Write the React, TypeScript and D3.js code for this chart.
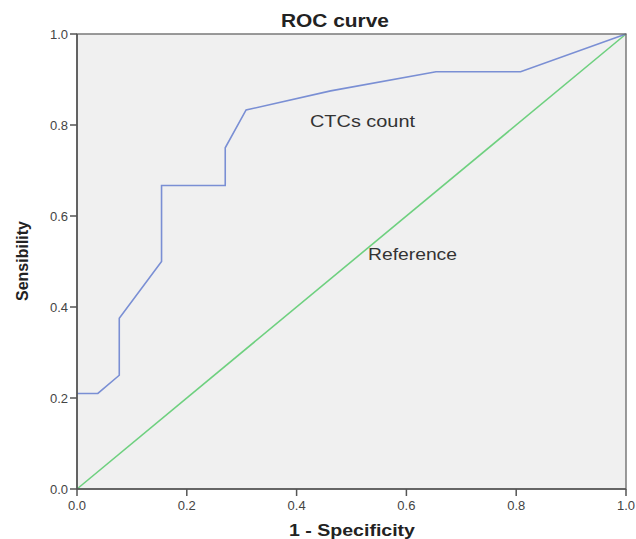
import React from 'react';
import * as d3 from 'd3';

// ROC points (1 - specificity, sensitivity)
const fpr = [0, 0.038, 0.077, 0.077, 0.154, 0.154, 0.27, 0.27, 0.308, 0.462, 0.654, 0.808, 1];
const tpr = [0.21, 0.21, 0.25, 0.375, 0.5, 0.667, 0.667, 0.75, 0.833, 0.875, 0.917, 0.917, 1];
const refLine = [0, 1];
const ticks = [0, 0.2, 0.4, 0.6, 0.8, 1.0];

const W = 636;
const H = 539;
const margin = { top: 34, right: 10, bottom: 50, left: 77 };

const App = () => {
  const x = d3.scaleLinear().domain([0, 1]).range([margin.left, W - margin.right]);
  const y = d3.scaleLinear().domain([0, 1]).range([H - margin.bottom, margin.top]);

  const line = d3.line<[number, number]>()
    .x(d => x(d[0]))
    .y(d => y(d[1]));

  const roc = line(fpr.map((f, i) => [f, tpr[i]] as [number, number]));
  const ref = line(refLine.map(v => [v, v] as [number, number]));

  const font = 'Liberation Sans, Arial, sans-serif';
  const axisColor = '#555';

  return (
    <svg width={W} height={H} style={{ position: 'absolute', left: 0, top: 0, background: '#fff' }}>
      <rect x={x(0)} y={y(1)} width={x(1) - x(0)} height={y(0) - y(1)} fill="#f0f0f0" />
      <path d={ref || ''} fill="none" stroke="#6ed07f" strokeWidth={1.6} />
      <path d={roc || ''} fill="none" stroke="#7a8fd4" strokeWidth={1.6} />
      <rect x={x(0)} y={y(1)} width={x(1) - x(0)} height={y(0) - y(1)} fill="none" stroke="#666" strokeWidth={1.3} />
      <line x1={x(0)} x2={x(0)} y1={y(1)} y2={y(0)} stroke={axisColor} strokeWidth={1.6} />
      <line x1={x(0)} x2={x(1)} y1={y(0)} y2={y(0)} stroke={axisColor} strokeWidth={1.6} />

      {ticks.map(t => (
        <g key={'y' + t}>
          <line x1={x(0) - 7} x2={x(0)} y1={y(t)} y2={y(t)} stroke={axisColor} strokeWidth={1.5} />
          <text x={x(0) - 9} y={y(t)} dy="0.35em" textAnchor="end" fontFamily={font} fontSize={13} fill="#444">
            {t.toFixed(1)}
          </text>
        </g>
      ))}
      {ticks.map(t => (
        <g key={'x' + t}>
          <line x1={x(t)} x2={x(t)} y1={y(0)} y2={y(0) + 7} stroke={axisColor} strokeWidth={1.5} />
          <text x={x(t)} y={y(0) + 21} textAnchor="middle" fontFamily={font} fontSize={13} fill="#444">
            {t.toFixed(1)}
          </text>
        </g>
      ))}

      <text x={335} y={27} textAnchor="middle" fontFamily={font} fontSize={18} fontWeight="bold" fill="#222"
        textLength={108} lengthAdjust="spacingAndGlyphs">ROC curve</text>
      <text x={352} y={536} textAnchor="middle" fontFamily={font} fontSize={16} fontWeight="bold" fill="#222"
        textLength={126} lengthAdjust="spacingAndGlyphs">1 - Specificity</text>
      <text transform={`translate(28,261) rotate(-90)`} textAnchor="middle" fontFamily={font} fontSize={16}
        fontWeight="bold" fill="#222" textLength={80} lengthAdjust="spacingAndGlyphs">Sensibility</text>
      <text x={310} y={127} fontFamily={font} fontSize={16} fill="#333"
        textLength={105} lengthAdjust="spacingAndGlyphs">CTCs count</text>
      <text x={368} y={260} fontFamily={font} fontSize={16} fill="#333"
        textLength={89} lengthAdjust="spacingAndGlyphs">Reference</text>
    </svg>
  );
};

export default App;
